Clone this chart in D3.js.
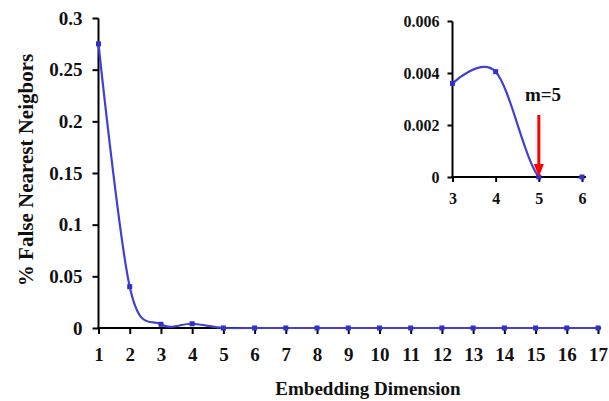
<!DOCTYPE html>
<html>
<head>
<meta charset="utf-8">
<script src="https://cdn.jsdelivr.net/npm/d3@7"></script>
<style>
  html, body { margin: 0; padding: 0; background: #fff; }
  svg text { font-family: "Liberation Serif", "Times New Roman", serif; font-weight: bold; fill: #111; }
</style>
</head>
<body>
<svg id="chart" width="609" height="401"></svg>
<script>
// Fraction of false nearest neighbours per embedding dimension
const dimensions = [1, 2, 3, 4, 5, 6, 7, 8, 9, 10, 11, 12, 13, 14, 15, 16, 17];
const fnnValues  = [0.275, 0.040, 0.0036, 0.0041, 0, 0, 0, 0, 0, 0, 0, 0, 0, 0, 0, 0, 0];
const yTicks     = [0, 0.05, 0.1, 0.15, 0.2, 0.25, 0.3];

// Close-up of dimensions 3–6
const insetDims   = [3, 4, 5, 6];
const insetValues = [0.0036, 0.00405, 0, 0];
const insetYTicks = [0, 0.002, 0.004, 0.006];
const chosenDim   = 5;

const svg = d3.select("#chart");
const defs = svg.append("defs");
const lineColor = "#4040d4";
const markColor = "#3030cc";

function drawPanel(g, cfg) {
  const x = d3.scaleLinear().domain(cfg.xDomain).range(cfg.xRange);
  const y = d3.scaleLinear().domain(cfg.yDomain).range(cfg.yRange);

  // plot-area clip so the smoothed line never runs under the x axis
  defs.append("clipPath").attr("id", cfg.id)
    .append("rect")
    .attr("x", cfg.xRange[0] - 10).attr("y", cfg.yRange[1] - 10)
    .attr("width", cfg.xEnd - cfg.xRange[0] + 20)
    .attr("height", cfg.yRange[0] - cfg.yRange[1] + 11.2);

  // y axis
  const yAxis = g.append("g")
    .attr("transform", `translate(${cfg.xRange[0]},0)`)
    .call(d3.axisLeft(y).tickValues(cfg.yTicks).tickSize(cfg.tick).tickPadding(cfg.pad)
      .tickFormat(d => cfg.yFormat(d)));
  yAxis.select(".domain").attr("stroke", "#000").attr("stroke-width", 2)
    .attr("d", `M0,${cfg.yRange[1] + 0.5}V${cfg.yRange[0]}`);
  yAxis.selectAll(".tick line").attr("stroke", "#000").attr("stroke-width", 2);
  yAxis.selectAll("text").style("font-size", cfg.font + "px").attr("fill", "#111");

  // x axis
  const xAxis = g.append("g")
    .attr("transform", `translate(0,${cfg.yRange[0]})`)
    .call(d3.axisBottom(x).tickValues(cfg.xTicks).tickSize(cfg.tick).tickPadding(cfg.xpad)
      .tickFormat(d3.format("d")));
  xAxis.select(".domain").attr("stroke", "#000").attr("stroke-width", 2)
    .attr("d", `M${cfg.xRange[0] - 1},0H${cfg.xEnd}`);
  xAxis.selectAll(".tick line").attr("stroke", "#000").attr("stroke-width", 2);
  xAxis.selectAll("text").style("font-size", cfg.font + "px").attr("fill", "#111");

  const pts = cfg.xs.map((d, i) => [d, cfg.ys[i]]);
  const line = d3.line().x(d => x(d[0])).y(d => y(d[1])).curve(d3.curveCardinal.tension(0));
  g.append("path").datum(pts)
    .attr("d", line)
    .attr("clip-path", `url(#${cfg.id})`)
    .attr("fill", "none")
    .attr("stroke", lineColor)
    .attr("stroke-width", 2.2);

  g.selectAll(null).data(pts).enter().append("rect")
    .attr("x", d => x(d[0]) - cfg.mark / 2)
    .attr("y", d => y(d[1]) - cfg.mark / 2)
    .attr("width", cfg.mark)
    .attr("height", cfg.mark)
    .attr("fill", markColor);

  return { x, y };
}

// Main panel
const main = svg.append("g");
drawPanel(main, {
  id: "clip-main",
  xDomain: [1, 17], xRange: [98.5, 598],
  yDomain: [0, 0.3], yRange: [328, 18],
  xs: dimensions, ys: fnnValues,
  xTicks: dimensions, yTicks: yTicks,
  yFormat: d => d === 0 ? "0" : String(+d.toFixed(2)),
  tick: 6, pad: 10, xpad: 14, font: 19, mark: 5, xEnd: 601
});

svg.append("text")
  .attr("x", 368).attr("y", 395)
  .attr("text-anchor", "middle")
  .style("font-size", "19px")
  .text("Embedding Dimension");

svg.append("text")
  .attr("transform", "translate(33,170) rotate(-90)")
  .attr("text-anchor", "middle")
  .style("font-size", "21px")
  .attr("fill", "#2a1c0c")
  .text("% False Nearest Neigbors");

// Inset panel
const inset = svg.append("g");
const sc = drawPanel(inset, {
  id: "clip-inset",
  xDomain: [3, 6], xRange: [452.5, 582],
  yDomain: [0, 0.006], yRange: [177, 21],
  xs: insetDims, ys: insetValues,
  xTicks: insetDims, yTicks: insetYTicks,
  yFormat: d => d === 0 ? "0" : d.toFixed(3),
  tick: 5, pad: 8, xpad: 11, font: 16, mark: 5, xEnd: 586
});

// Arrow marking the chosen dimension
const ax = sc.x(chosenDim);
const tipY = sc.y(0);
inset.append("line")
  .attr("x1", ax).attr("x2", ax)
  .attr("y1", 115).attr("y2", tipY - 12)
  .attr("stroke", "#ff0000").attr("stroke-width", 3);
inset.append("path")
  .attr("d", `M${ax - 5},${tipY - 13}L${ax + 5},${tipY - 13}L${ax},${tipY}Z`)
  .attr("fill", "#ff0000");

inset.append("text")
  .attr("x", 543).attr("y", 101)
  .attr("text-anchor", "middle")
  .style("font-size", "19px")
  .text("m=" + chosenDim);
</script>
</body>
</html>
